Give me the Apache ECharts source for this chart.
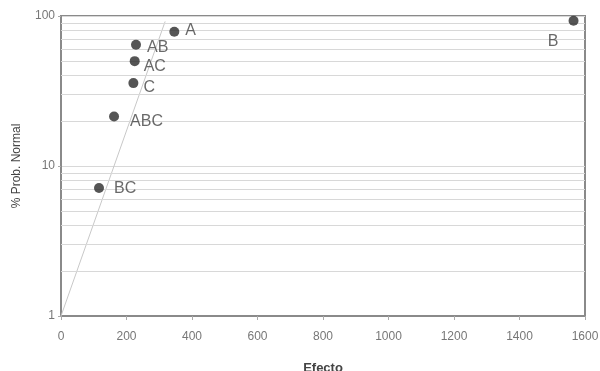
<!DOCTYPE html>
<html>
<head>
<meta charset="utf-8">
<script src="https://cdn.jsdelivr.net/npm/echarts@6/dist/echarts.min.js"></script>
<style>html,body{margin:0;padding:0;background:#fff}#c{width:600px;height:371px}</style>
</head>
<body>
<div id="c"></div>
<script>
// Data
var effectNames = ['BC', 'ABC', 'C', 'AC', 'AB', 'A', 'B'];
var effectValues = [116, 162, 221, 225, 229, 346, 1565];
var probValues = [7.14, 21.4, 35.7, 50.0, 64.3, 78.6, 92.9];
var refLineX = [0, 318];
var refLineY = [1, 92];
var minorGridValues = [2, 3, 4, 5, 6, 7, 8, 9, 20, 30, 40, 50, 60, 70, 80, 90];
var xTicks = { min: 0, max: 1600, interval: 200 };

// label layout (style only)
var labelLayout = {
  'A':   { position: 'right', distance: 6, offset: [0, -1] },
  'AB':  { position: 'right', distance: 6, offset: [0, 3] },
  'AC':  { position: 'right', distance: 4, offset: [0, 5] },
  'C':   { position: 'right', distance: 5, offset: [0, 4] },
  'ABC': { position: 'right', distance: 11, offset: [0, 5] },
  'BC':  { position: 'right', distance: 10, offset: [0, 1] },
  'B':   { position: 'left', distance: 10, offset: [0, 21] }
};

var scatterData = effectNames.map(function (n, i) {
  var l = labelLayout[n];
  return {
    name: n,
    value: [effectValues[i], probValues[i]],
    label: { position: l.position, distance: l.distance, offset: l.offset }
  };
});

var chart = echarts.init(document.getElementById('c'), null, { renderer: 'canvas' });
var font = 'Liberation Sans, Arial, sans-serif';
chart.setOption({
  animation: false,
  grid: { left: 61, right: 15, top: 16, bottom: 55, containLabel: false, outerBoundsMode: 'none', show: true, borderColor: '#8a8a8a', borderWidth: 2, backgroundColor: 'transparent' },
  xAxis: {
    type: 'value', min: xTicks.min, max: xTicks.max, interval: xTicks.interval,
    name: 'Efecto', nameLocation: 'middle', nameGap: 46,
    nameTextStyle: { fontFamily: font, fontSize: 13, fontWeight: 'bold', color: '#444' },
    axisLine: { show: true, lineStyle: { color: '#8a8a8a', width: 2 } },
    axisTick: { show: true, length: 4, lineStyle: { color: '#aaa' } },
    axisLabel: { fontFamily: font, fontSize: 12, color: '#777', margin: 15, formatter: function (v) { return String(v); } },
    splitLine: { show: false }
  },
  yAxis: {
    type: 'log', logBase: 10, min: 1, max: 100,
    name: '% Prob. Normal', nameLocation: 'middle', nameGap: 38,
    nameTextStyle: { fontFamily: font, fontSize: 12, color: '#444' },
    axisLine: { show: true, lineStyle: { color: '#8a8a8a', width: 2 } },
    axisTick: { show: true, length: 3, lineStyle: { color: '#aaa' } },
    axisLabel: { fontFamily: font, fontSize: 12, color: '#777', margin: 6 },
    splitLine: { show: true, lineStyle: { color: '#d8d8d8', width: 1 } },
    minorTick: { show: false },
    minorSplitLine: { show: false }
  },
  series: [
    {
      type: 'line',
      data: refLineX.map(function (x, i) { return [x, refLineY[i]]; }),
      showSymbol: false, symbol: 'none',
      lineStyle: { color: '#c8c8c8', width: 1 },
      silent: true, z: 1,
      markLine: {
        silent: true, symbol: 'none', label: { show: false },
        lineStyle: { color: '#d8d8d8', width: 1, type: 'solid' },
        data: minorGridValues.map(function (v) { return { yAxis: v }; })
      }
    },
    {
      type: 'scatter',
      data: scatterData,
      symbolSize: 10,
      itemStyle: { color: '#2a2a2a' },
      z: 5,
      label: {
        show: true,
        formatter: function (p) { return p.name; },
        fontFamily: font, fontSize: 16, color: '#444'
      }
    }
  ]
});
</script>
</body>
</html>
